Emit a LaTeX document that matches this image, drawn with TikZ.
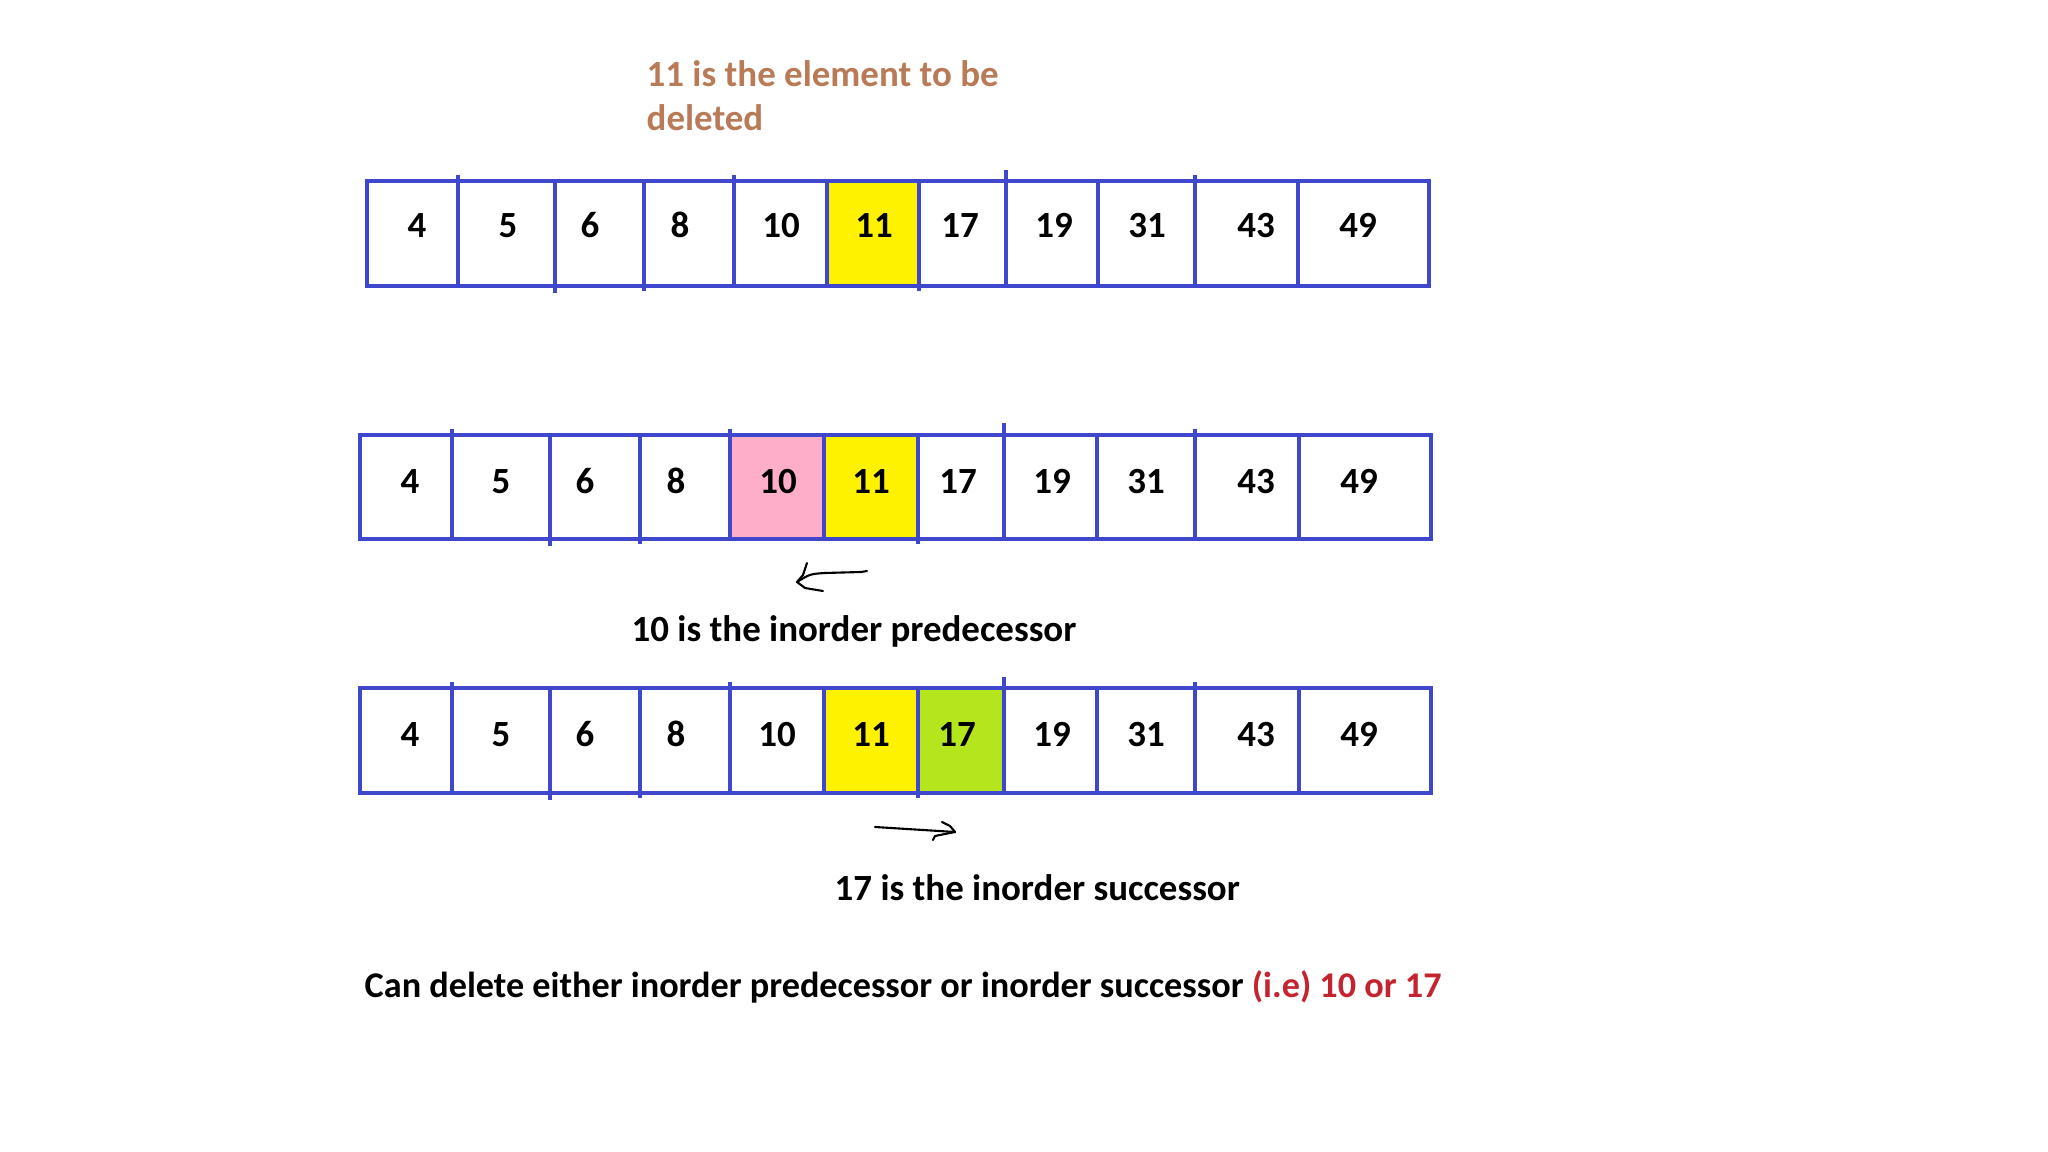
\documentclass[tikz,border=0pt]{standalone}
\usepackage{fontspec}
\setmainfont{Carlito}
\usetikzlibrary{positioning, arrows.meta}
\definecolor{paintblue}{RGB}{63,72,204}
\definecolor{paintbrown}{RGB}{185,122,87}
\definecolor{paintyellow}{RGB}{255,242,0}
\definecolor{paintpink}{RGB}{255,174,201}
\definecolor{paintgreen}{RGB}{181,230,29}
\definecolor{notered}{RGB}{196,36,48}
\tikzset{
  cell/.style={draw=paintblue, line width=1.15pt},
  tick/.style={draw=paintblue, line width=1.15pt},
  num/.style={anchor=base, inner sep=0pt},
  caption/.style={anchor=base west, inner sep=0pt},
  hand/.style={line width=0.6pt, line cap=round, line join=round}
}

\begin{document}
\begin{tikzpicture}[x=0.01cm, y=-0.01cm, font=\bfseries\fontsize{10.5}{12}\selectfont]
  \useasboundingbox (0,0) rectangle (2048,1152);
  % heading
  \node[caption, text=paintbrown] (head1) at (646,87) {11 is the element to be};
  \node[caption, text=paintbrown] (head2) at (646,131) {deleted};
  % first row
  \foreach \a/\b/\c/\v/\f [count=\i] in {367/458/417/4/white, 458/555/508/5/white,
      555/644/590/6/white, 644/734/680/8/white, 734/827/781/10/white,
      827/919/874/11/paintyellow, 919/1006/960/17/white, 1006/1098/1054/19/white,
      1098/1195/1147/31/white, 1195/1298/1256/43/white, 1298/1429/1358/49/white}
  {
    \filldraw[cell, fill=\f] (\a,181) rectangle (\b,286);
    \node[num] (ra\i) at (\c,238) {\v};
  }
  % second row
  \foreach \a/\b/\c/\v/\f [count=\i] in {360/452/410/4/white, 452/550/501/5/white,
      550/640/585/6/white, 640/730/676/8/white, 730/824/778/10/paintpink,
      824/918/871/11/paintyellow, 918/1004/958/17/white, 1004/1097/1052/19/white,
      1097/1195/1146/31/white, 1195/1299/1256/43/white, 1299/1431/1359/49/white}
  {
    \filldraw[cell, fill=\f] (\a,435) rectangle (\b,539);
    \node[num] (rb\i) at (\c,494) {\v};
  }
  % third row
  \foreach \a/\b/\c/\v/\f [count=\i] in {360/452/410/4/white, 452/550/501/5/white,
      550/640/585/6/white, 640/730/676/8/white, 730/824/777/10/white,
      824/918/871/11/paintyellow, 918/1004/957/17/paintgreen, 1004/1097/1052/19/white,
      1097/1195/1146/31/white, 1195/1299/1256/43/white, 1299/1431/1359/49/white}
  {
    \filldraw[cell, fill=\f] (\a,688) rectangle (\b,793);
    \node[num] (rc\i) at (\c,746) {\v};
  }
  % small overshoots of the hand drawn dividers
  \foreach \x/\ya/\yb in {458/175/181, 734/175/181, 1006/170/181, 1195/175/181,
      555/286/293, 644/286/291, 919/286/291,
      452/429/435, 730/429/435, 1004/423/435, 1195/429/435,
      550/539/546, 640/539/544, 918/539/544,
      452/682/688, 730/682/688, 1004/677/688, 1195/682/688,
      550/793/800, 640/793/798, 918/793/798}
    \draw[tick] (\x,\ya) -- (\x,\yb);
  % predecessor arrow
  \coordinate (pa) at (867,571);
  \coordinate (pb) at (797,582);
  \draw[hand] (pa) -- (861,572) -- (825,573) .. controls (810,574) .. (pb);
  \draw[hand] (807,563) -- (803,575) -- (pb) -- (805,588) -- (823,591);
  \node[caption] (pred) at (631,641) {10 is the inorder predecessor};
  % successor arrow
  \coordinate (sa) at (875,827);
  \coordinate (sb) at (955,832);
  \draw[hand] (sa) -- (sb);
  \draw[hand] (942,822) -- (950,826) -- (sb) -- (935,836) -- (933,840);
  \node[caption] (succ) at (834,900) {17 is the inorder successor};
  % conclusion
  \node[caption, font=\bfseries\fontsize{10.3}{12}\selectfont] (note) at (364,997)
    {Can delete either inorder predecessor or inorder successor \textcolor{notered}{(i.e) 10 or 17}};
\end{tikzpicture}
\end{document}
